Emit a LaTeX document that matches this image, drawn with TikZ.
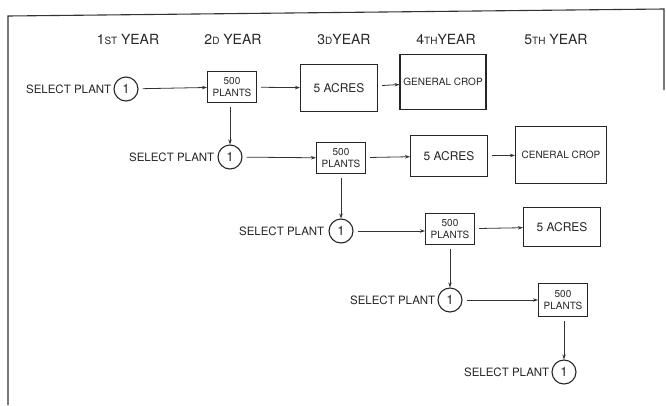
\documentclass[tikz,border=0pt]{standalone}
\usepackage{fontspec}
\setmainfont{TeX Gyre Heros}
\usetikzlibrary{positioning}
\usetikzlibrary{arrows.meta}

\begin{document}
\begin{tikzpicture}[x=1pt, y=-1pt, >={Stealth[length=5pt,width=3.5pt]}, every node/.style={text=black!85},
  yearlabel/.style={font=\fontsize{14}{16}\selectfont},
  selectlabel/.style={font=\fontsize{11.5}{13}\selectfont, inner sep=1pt},
  plantcircle/.style={draw=black!85, line width=1.1pt, circle, minimum size=24pt, inner sep=0pt, font=\fontsize{13}{15}\selectfont},
  plantbox/.style={draw=black!85, line width=1.1pt, minimum width=49pt, minimum height=31pt, inner sep=1pt, align=center, font=\fontsize{10}{11.5}\selectfont},
  acrebox/.style={draw=black!85, line width=1.1pt, minimum width=77pt, inner sep=1pt, font=\fontsize{12}{14}\selectfont},
  cropbox/.style={draw=black!85, line width=1.1pt, inner sep=1pt, font=\fontsize{10}{12}\selectfont},
  flow/.style={->, black!80, line width=0.8pt, shorten <=4pt}]
\useasboundingbox (0,0) rectangle (666,405);
% frame
\draw[black!80, line width=1.1pt] (8,405) -- (8,16) -- (664,9) -- (664,90);
% year headings
\node[yearlabel] (y1) at (128,39) {1{\fontsize{10}{12}\selectfont ST} YEAR};
\node[yearlabel] (y2) at (233,39) {2{\fontsize{10}{12}\selectfont D} YEAR};
\node[yearlabel] (y3) at (344,39) {3{\fontsize{10}{12}\selectfont D}YEAR};
\node[yearlabel] (y4) at (446,39) {4{\fontsize{10}{12}\selectfont TH}YEAR};
\node[yearlabel] (y5) at (556,39) {5{\fontsize{10}{12}\selectfont TH} YEAR};
% row 1
\node[plantcircle] (c1) at (126,89) {1};
\node[selectlabel, left=1pt of c1] (s1) {SELECT PLANT};
\node[plantbox] (b1) at (232,87) {500\\PLANTS};
\node[acrebox, minimum height=47pt] (a1) at (339,88) {5 ACRES};
\node[cropbox, minimum width=86pt, minimum height=55pt] (g1) at (443,82) {GENERAL CROP};
\draw[flow] (c1) -- (b1);
\draw[flow] (b1) -- (a1);
\draw[flow] (a1) -- (g1);
% row 2
\node[plantcircle] (c2) at (230,157) {1};
\node[selectlabel, left=2pt of c2] (s2) {SELECT PLANT};
\node[plantbox] (b2) at (341,158) {500\\PLANTS};
\node[acrebox, minimum height=41pt] (a2) at (449,156) {5 ACRES};
\node[cropbox, minimum width=91pt, minimum height=57pt] (g2) at (561,155) {CENERAL CROP};
\draw[flow] (c2) -- (b2);
\draw[flow] (b2) -- (a2);
\draw[flow] (a2) -- (g2);
\draw[flow] (b1.south -| c2) -- (c2.north);
% row 3
\node[plantcircle] (c3) at (341,231) {1};
\node[selectlabel, left=3pt of c3] (s3) {SELECT PLANT};
\node[plantbox] (b3) at (450,229) {500\\PLANTS};
\node[acrebox, minimum height=39pt] (a3) at (562,227) {5 ACRES};
\draw[flow] (c3) -- (b3.west |- c3);
\draw[flow] (b3) -- (a3);
\draw[flow] (b2.south -| c3) -- (c3.north);
% row 4
\node[plantcircle] (c4) at (450,300) {1};
\node[selectlabel, left=1pt of c4] (s4) {SELECT PLANT};
\node[plantbox, minimum height=33pt] (b4) at (563,300) {500\\PLANTS};
\draw[flow] (c4) -- (b4);
\draw[flow] (b3.south -| c4) -- (c4.north);
% row 5
\node[plantcircle] (c5) at (564,372) {1};
\node[selectlabel, left=1pt of c5] (s5) {SELECT PLANT};
\draw[flow] (b4.south -| c5) -- (c5.north);
\end{tikzpicture}
\end{document}
